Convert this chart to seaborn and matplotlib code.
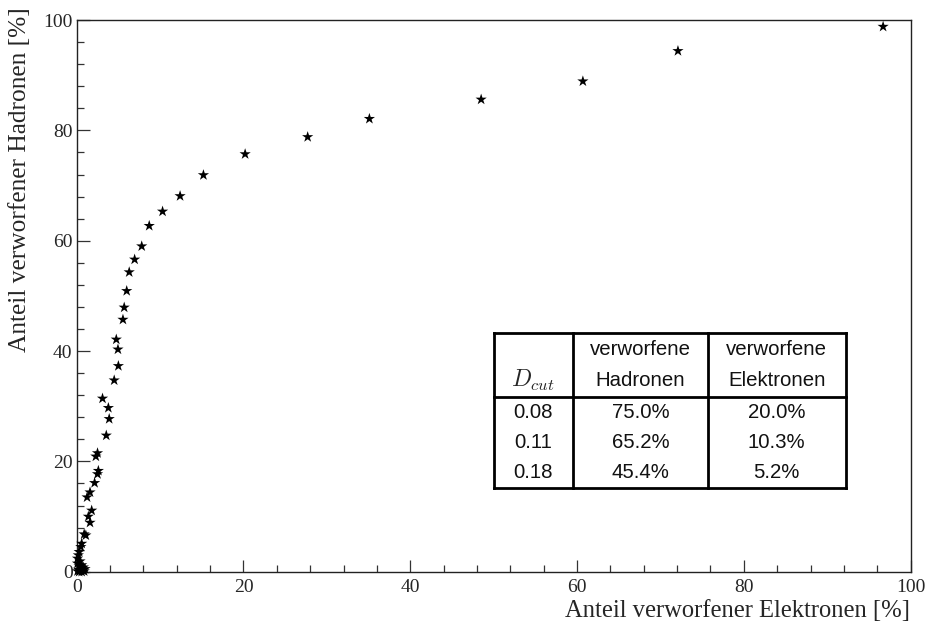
import matplotlib
matplotlib.use("Agg")
import matplotlib.pyplot as plt
import seaborn as sns
import pandas as pd
from matplotlib.ticker import MultipleLocator

elektronen = [96.7, 72.1, 60.7, 48.5, 35.1, 27.7, 20.2, 15.2, 12.4, 10.3, 8.7, 7.8,
              6.95, 6.3, 6.0, 5.7, 5.55, 4.75, 4.95, 5.0, 4.5, 3.1, 3.8, 3.9, 3.55,
              2.5, 2.3, 2.6, 2.5, 2.15, 1.6, 1.25, 1.8, 1.4, 1.6, 0.9, 1.1, 0.6, 0.5,
              0.3, 0.2, 0.1, 0.4, 0.1, 0.6, 0.3, 0.8, 0.5, 0.2, 0.7, 0.4, 0.9, 0.1,
              0.6, 0.3, 1.0]
hadronen = [98.8, 94.4, 88.9, 85.6, 82.1, 78.8, 75.7, 71.9, 68.1, 65.3, 62.7, 59.0,
            56.6, 54.3, 50.9, 47.9, 45.7, 42.1, 40.3, 37.3, 34.7, 31.4, 29.7, 27.7, 24.7,
            21.5, 20.9, 18.3, 17.7, 16.1, 14.4, 13.5, 11.1, 10.0, 8.9, 6.8, 6.6, 5.1, 4.5,
            3.6, 3.0, 2.4, 1.9, 1.5, 1.2, 1.0, 0.8, 0.6, 0.4, 0.3, 0.2, 0.1, 0.1,
            0.0, 0.0, 0.5]

header_top = ["verworfene", "verworfene"]
header_bottom = ["Hadronen", "Elektronen"]
d_cut = ["0.08", "0.11", "0.18"]
had_pct = ["75.0%", "65.2%", "45.4%"]
ele_pct = ["20.0%", "10.3%", "5.2%"]

sns.set_style("ticks")
plt.rcParams["mathtext.fontset"] = "cm"

fig = plt.figure(figsize=(9.26, 6.26), dpi=100)
ax = fig.add_axes([0.0828, 0.0867, 0.9006, 0.8813])

df = pd.DataFrame({"x": elektronen, "y": hadronen})
sns.scatterplot(data=df, x="x", y="y", marker="*", s=72, color="black",
                edgecolor="none", linewidth=0, ax=ax, clip_on=False, zorder=3)

ax.set_xlim(0, 100)
ax.set_ylim(0, 100)
ax.xaxis.set_major_locator(MultipleLocator(20))
ax.xaxis.set_minor_locator(MultipleLocator(4))
ax.yaxis.set_major_locator(MultipleLocator(20))
ax.yaxis.set_minor_locator(MultipleLocator(4))
ax.tick_params(which="both", direction="in", top=False, right=False, color="#333333",
               width=0.9)
ax.tick_params(which="major", length=9, labelsize=14, pad=3)
ax.tick_params(axis="x", which="major", pad=5)
ax.tick_params(which="minor", length=5)
for lab in ax.get_xticklabels() + ax.get_yticklabels():
    lab.set_family("Liberation Serif")
for sp in ax.spines.values():
    sp.set_visible(True)
    sp.set_linewidth(1.0)
    sp.set_color("#222222")

ax.set_xlabel("")
ax.set_ylabel("")
fig.text(0.983, 0.015, "Anteil verworfener Elektronen [%]", ha="right", va="baseline",
         family="Liberation Serif", fontsize=17.7)
fig.text(0.022, 0.988, "Anteil verworfener Hadronen [%]", ha="center", va="top",
         rotation=90, family="Liberation Serif", fontsize=18.3)

# table
x0, x1, x2, x3 = 0.500, 0.595, 0.757, 0.922
yt, ym, yb = 0.433, 0.317, 0.152
lw = 2.0
tr = ax.transAxes
for xx in (x0, x1, x2, x3):
    ax.plot([xx, xx], [yb, yt], color="black", lw=lw, transform=tr, clip_on=False,
            solid_capstyle="projecting")
for yy in (yt, ym, yb):
    ax.plot([x0, x3], [yy, yy], color="black", lw=lw, transform=tr, clip_on=False,
            solid_capstyle="projecting")
ax.add_patch(plt.Rectangle((x0, yb), x3 - x0, yt - yb, transform=tr,
                           facecolor="white", edgecolor="none", zorder=1.5))
tfont = dict(family="Liberation Sans", fontsize=14.7, color="#111111")
y_h1, y_h2 = 0.4037, 0.3475
ax.text((x0 + x1) / 2, y_h2, "$D_{cut}$", transform=tr, ha="center",
        va="center", fontsize=17)
for cx, top, bot in zip([(x1 + x2) / 2, (x2 + x3) / 2], header_top, header_bottom):
    ax.text(cx, y_h1, top, transform=tr, ha="center", va="center", **tfont)
    ax.text(cx, y_h2, bot, transform=tr, ha="center", va="center", **tfont)
row_h = (ym - yb) / 3
for i in range(3):
    yc = ym - row_h * (i + 0.5)
    ax.text((x0 + x1) / 2, yc, d_cut[i], transform=tr, ha="center", va="center", **tfont)
    ax.text((x1 + x2) / 2, yc, had_pct[i], transform=tr, ha="center", va="center", **tfont)
    ax.text((x2 + x3) / 2, yc, ele_pct[i], transform=tr, ha="center", va="center", **tfont)

fig.savefig("out.png", dpi=100)
